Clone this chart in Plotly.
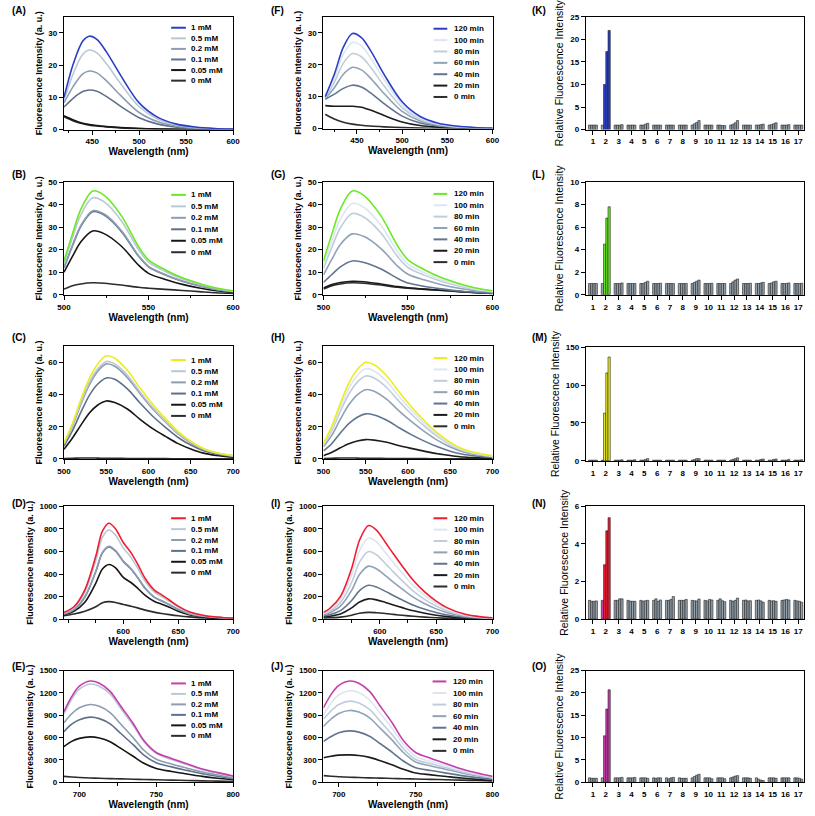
import plotly.graph_objects as go

W, H = 815, 816

# ---------------- data ----------------
conc_labels = ["1 mM", "0.5 mM", "0.2 mM", "0.1 mM", "0.05 mM", "0 mM"]
time_labels = ["120 min", "100 min", "80 min", "60 min", "40 min", "20 min", "0 min"]

# (A) 420-600 nm
A_wl = [420, 430, 440, 447, 455, 465, 480, 500, 520, 540, 560, 580, 600]
A_1 = [10, 20.5, 27.5, 29, 28, 24.2, 17, 8.3, 3.8, 1.7, 0.8, 0.35, 0.15]
A_05 = [9, 17.5, 23.4, 24.7, 23.8, 20.5, 14.4, 7.1, 3.2, 1.4, 0.65, 0.3, 0.12]
A_02 = [8.3, 13.5, 17.3, 18.2, 17.6, 15.2, 10.7, 5.3, 2.4, 1.05, 0.5, 0.22, 0.1]
A_01 = [7, 9.8, 11.8, 12.3, 11.9, 10.3, 7.3, 3.7, 1.7, 0.75, 0.35, 0.15, 0.07]
A_005 = [4.3, 3, 2, 1.6, 1.25, 0.95, 0.65, 0.35, 0.2, 0.1, 0.05, 0.03, 0.02]
A_0 = [4, 2.7, 1.8, 1.4, 1.1, 0.85, 0.55, 0.3, 0.15, 0.08, 0.04, 0.02, 0.01]

# (B) 500-600 nm
B_wl = [500, 505, 510, 517, 524, 534, 544, 550, 560, 570, 580, 590, 600]
B_1 = [15, 27, 38, 46, 44, 35, 21.5, 15.5, 11, 7.5, 5, 3, 1.8]
B_05 = [14, 25.2, 35.5, 43, 41.1, 32.7, 20.1, 14.5, 10.3, 7, 4.7, 2.8, 1.6]
B_02 = [12, 21.9, 30.8, 37.3, 35.7, 28.4, 17.4, 12.6, 8.9, 6.1, 4, 2.4, 1.4]
B_01 = [12, 21.6, 30.4, 36.8, 35.2, 28, 17.2, 12.4, 8.8, 6, 4, 2.4, 1.4]
B_005 = [10, 17, 23.5, 28.3, 27, 21.5, 13.2, 9.5, 6.8, 4.6, 3, 1.8, 1]
B_0 = [2.5, 4, 4.8, 5.3, 5.1, 4.3, 3.3, 2.9, 2.4, 1.9, 1.4, 0.9, 0.6]

# (C) 500-700 nm
C_wl = [500, 510, 520, 530, 540, 550, 560, 575, 590, 605, 620, 635, 650, 665, 680, 700]
C_1 = [10, 22, 37, 50, 59, 64, 62.5, 55, 44, 34, 25, 17, 11, 6.5, 4, 2]
C_05 = [9.5, 21, 35, 47.5, 56, 60.5, 59, 52, 41.6, 32, 23.5, 16, 10.4, 6.1, 3.7, 1.9]
C_02 = [9, 20.5, 34, 46, 54.5, 59, 57.5, 50.5, 40.5, 31, 23, 15.5, 10, 6, 3.6, 1.8]
C_01 = [8, 17.5, 29, 39.5, 46.5, 50.3, 49.5, 43.5, 34.7, 26.5, 19.6, 13.3, 8.6, 5.1, 3.1, 1.5]
C_005 = [6, 13, 21, 28.5, 33.5, 36, 35, 31, 24.6, 18.8, 14, 9.5, 6.2, 3.6, 2.2, 1.1]
C_0 = [0.3, 0.4, 0.6, 0.6, 0.5, 0.4, 0.4, 0.3, 0.3, 0.2, 0.2, 0.1, 0.1, 0.1, 0.1, 0.1]

# (D) 546-700 nm
D_wl = [546, 555, 565, 575, 581, 587, 593, 600, 607, 613, 620, 628, 635, 642, 650, 660, 675, 690, 700]
D_1 = [60, 110, 260, 560, 780, 850, 800, 680, 590, 490, 360, 260, 215, 170, 115, 65, 30, 15, 10]
D_05 = [56, 102, 242, 520, 725, 790, 744, 632, 548, 455, 335, 242, 200, 158, 107, 60, 28, 14, 9]
D_02 = [46, 84, 198, 425, 592, 645, 607, 516, 448, 372, 274, 198, 163, 129, 87, 49, 23, 11, 7]
D_01 = [45, 83, 196, 422, 588, 640, 602, 512, 444, 369, 272, 196, 161, 128, 86, 49, 23, 11, 7]
D_005 = [40, 70, 150, 320, 445, 485, 455, 370, 325, 275, 210, 158, 132, 105, 70, 40, 18, 9, 6]
D_0 = [30, 45, 70, 110, 145, 155, 148, 130, 115, 100, 80, 62, 50, 40, 30, 20, 10, 6, 4]

# (E) 690-800 nm
E_wl = [690, 695, 700, 707, 713, 720, 727, 735, 742, 750, 760, 770, 780, 790, 800]
E_1 = [950, 1150, 1290, 1360, 1330, 1220, 1020, 790, 560, 400, 320, 250, 180, 130, 85]
E_05 = [920, 1115, 1250, 1320, 1290, 1185, 990, 765, 545, 388, 305, 238, 170, 122, 75]
E_02 = [800, 920, 1000, 1045, 1020, 935, 780, 600, 430, 310, 245, 190, 138, 98, 60]
E_01 = [680, 780, 840, 875, 855, 785, 655, 505, 365, 262, 207, 160, 115, 82, 50]
E_005 = [480, 550, 590, 610, 595, 545, 455, 350, 255, 185, 145, 112, 80, 55, 35]
E_0 = [80, 72, 65, 58, 54, 50, 46, 42, 38, 34, 30, 25, 20, 16, 12]

# (F) 413-600 nm, time course
F_wl = [415, 425, 435, 445, 455, 465, 480, 500, 520, 540, 560, 580, 600]
F_120 = [10, 17, 25.5, 29.8, 28.5, 24.5, 17, 8.4, 3.8, 1.7, 0.8, 0.35, 0.15]
F_100 = [10, 15.8, 23.3, 27, 25.9, 22.2, 15.4, 7.6, 3.4, 1.5, 0.7, 0.3, 0.13]
F_80 = [9.8, 14.5, 20.5, 23.5, 22.5, 19.3, 13.4, 6.6, 3, 1.3, 0.6, 0.27, 0.12]
F_60 = [9.5, 12.8, 17, 19.2, 18.4, 15.8, 11, 5.4, 2.4, 1.05, 0.5, 0.22, 0.1]
F_40 = [9.2, 10.8, 12.6, 13.6, 13, 11.2, 7.8, 3.9, 1.75, 0.8, 0.37, 0.17, 0.08]
F_20 = [7.2, 7, 7, 7, 6.7, 5.8, 4.1, 2.1, 0.95, 0.45, 0.2, 0.1, 0.05]
F_0 = [4.5, 3, 2, 1.4, 1.05, 0.8, 0.55, 0.3, 0.15, 0.08, 0.04, 0.02, 0.01]

# (G) 500-600 nm
G_wl = [500, 505, 510, 517, 524, 534, 544, 550, 560, 570, 580, 590, 600]
G_120 = [15, 27, 38, 46, 44, 35, 21.5, 15.5, 11, 7.5, 5, 3, 1.8]
G_100 = [13.2, 23.8, 33.5, 40.5, 38.7, 30.8, 18.9, 13.6, 9.7, 6.6, 4.4, 2.6, 1.6]
G_80 = [11.7, 21.1, 29.7, 36, 34.4, 27.4, 16.8, 12.1, 8.6, 5.9, 3.9, 2.3, 1.4]
G_60 = [8.8, 15.8, 22.3, 27, 25.8, 20.5, 12.6, 9.1, 6.5, 4.4, 2.9, 1.8, 1.1]
G_40 = [5.5, 9, 12.4, 15, 14.3, 11.4, 7.2, 5.2, 3.7, 2.6, 1.7, 1.1, 0.7]
G_20 = [3, 4.5, 5.4, 6, 5.8, 4.8, 3.6, 3.1, 2.5, 2, 1.5, 1, 0.6]
G_0 = [2.5, 4, 4.8, 5.3, 5.1, 4.3, 3.3, 2.9, 2.4, 1.9, 1.4, 0.9, 0.6]

# (H) 500-700 nm
H_wl = [500, 510, 520, 530, 540, 550, 560, 575, 590, 605, 620, 635, 650, 665, 680, 700]
H_120 = [9.5, 20.5, 34.5, 47, 55.5, 60, 58.5, 51.5, 41.2, 31.8, 23.4, 16, 10.3, 6.1, 3.8, 1.9]
H_100 = [9, 19.2, 32.2, 43.8, 51.8, 56, 54.6, 48, 38.5, 29.7, 21.8, 15, 9.6, 5.7, 3.5, 1.8]
H_80 = [8.5, 17.7, 29.6, 40.3, 47.7, 51.5, 50.2, 44.2, 35.4, 27.3, 20.1, 13.8, 8.8, 5.3, 3.3, 1.6]
H_60 = [7.5, 14.8, 24.7, 33.6, 39.8, 43, 42, 36.9, 29.5, 22.8, 16.8, 11.5, 7.4, 4.4, 2.7, 1.4]
H_40 = [5, 9.6, 16.1, 21.9, 25.9, 28, 27.3, 24, 19.2, 14.8, 10.9, 7.5, 4.8, 2.9, 1.8, 0.9]
H_20 = [2, 4.1, 6.9, 9.4, 11.1, 12, 11.7, 10.3, 8.2, 6.4, 4.7, 3.2, 2.1, 1.2, 0.8, 0.4]
H_0 = [0.3, 0.4, 0.6, 0.6, 0.5, 0.4, 0.4, 0.3, 0.3, 0.2, 0.2, 0.1, 0.1, 0.1, 0.1, 0.1]

# (I) 550-700 nm
I_wl = [550, 555, 565, 575, 582, 590, 597, 605, 612, 620, 630, 640, 650, 660, 675, 690, 700]
I_120 = [60, 90, 200, 450, 700, 830, 790, 680, 580, 470, 340, 240, 160, 100, 45, 20, 12]
I_100 = [55, 80, 175, 390, 607, 720, 685, 590, 503, 408, 295, 208, 139, 87, 39, 17, 10]
I_80 = [48, 68, 146, 325, 506, 600, 571, 492, 419, 340, 246, 173, 116, 72, 33, 15, 9]
I_60 = [40, 55, 115, 255, 396, 470, 447, 385, 328, 266, 193, 136, 91, 57, 26, 12, 7]
I_40 = [30, 38, 75, 165, 253, 300, 285, 246, 210, 170, 123, 87, 58, 36, 17, 8, 5]
I_20 = [20, 25, 46, 100, 152, 180, 171, 148, 126, 102, 74, 52, 35, 22, 10, 5, 3]
I_0 = [10, 12, 18, 35, 52, 60, 57, 50, 42, 34, 25, 18, 12, 8, 4, 2, 1]

# (J) 690-800 nm
J_wl = [690, 695, 700, 707, 713, 720, 727, 735, 742, 750, 760, 770, 780, 790, 800]
J_120 = [1000, 1180, 1300, 1360, 1330, 1220, 1020, 790, 560, 400, 320, 250, 180, 125, 80]
J_100 = [900, 1065, 1175, 1230, 1205, 1105, 925, 715, 510, 345, 280, 220, 160, 112, 72]
J_80 = [850, 960, 1045, 1090, 1065, 978, 818, 633, 452, 306, 248, 195, 142, 99, 64]
J_60 = [750, 850, 925, 965, 943, 866, 725, 560, 400, 272, 220, 173, 126, 88, 57]
J_40 = [550, 615, 665, 690, 674, 619, 518, 400, 286, 195, 158, 124, 90, 63, 41]
J_20 = [330, 350, 365, 368, 360, 335, 290, 232, 175, 125, 100, 78, 57, 40, 26]
J_0 = [90, 82, 75, 68, 64, 60, 56, 52, 48, 44, 40, 35, 29, 24, 18]

# Relative fluorescence bars: 17 analytes x 4 bars
bar_categories = list(range(1, 18))
K_vals = [[1, 1, 1, 1], [1, 10, 17.3, 22], [1, 1, 1, 1.1], [1, 1, 1, 1], [1, 1, 1.2, 1.4],
          [1, 1, 1, 1], [1, 1, 1, 1], [1, 1, 1, 1], [1, 1.3, 1.6, 2], [1, 1, 1, 1],
          [1, 1, 0.9, 0.9], [1, 1.2, 1.5, 2], [1, 1, 1, 1], [1, 1, 1.1, 1.2],
          [1, 1.1, 1.3, 1.5], [1, 1, 1, 1.1], [1, 1, 1, 1]]
L_vals = [[1, 1, 1, 1], [1, 4.5, 6.8, 7.8], [1, 1, 1, 1.05], [1, 1, 1, 1], [1, 1, 1.1, 1.2],
          [1, 1, 1, 1.02], [1, 1, 1, 1], [1, 1, 1, 1], [1, 1.1, 1.2, 1.3], [1, 1, 1, 1.02],
          [1, 1, 1, 1], [1, 1.15, 1.3, 1.4], [1, 1, 1, 1.02], [1, 1, 1.05, 1.1],
          [1, 1.05, 1.15, 1.2], [1, 1, 1, 1.05], [1, 1, 1, 1.02]]
M_vals = [[1, 1, 1, 1], [1, 63, 116, 137], [1, 1, 1, 1.5], [1, 1, 1, 1.5], [1, 1, 2, 3],
          [1, 1, 1, 1], [1, 1, 1, 1], [1, 1, 1, 1], [1, 2, 3, 3], [1, 1, 1, 1],
          [1, 1, 1, 1], [1, 2, 3, 4], [1, 1, 1, 1], [1, 1, 2, 2.5],
          [1, 1, 2, 2.5], [1, 1, 1, 2], [1, 1, 1, 1.5]]
N_vals = [[1, 0.95, 0.95, 0.97], [1, 2.9, 4.7, 5.4], [1, 1, 1.08, 1.08], [1, 0.96, 0.95, 0.95],
          [1, 0.96, 0.98, 1], [1, 1.08, 0.95, 1.02], [1, 1, 1.05, 1.2], [1, 1, 1, 1.05],
          [1, 0.98, 0.97, 1.07], [1, 0.97, 1.05, 1.02], [1, 1.08, 0.98, 0.93],
          [1, 0.95, 1, 1.12], [1, 1.02, 0.97, 0.98], [1, 1.02, 0.97, 0.9],
          [1, 0.97, 0.98, 0.95], [1, 1.02, 1.05, 1.02], [1, 0.97, 0.95, 0.9]]
O_vals = [[1, 0.9, 0.9, 0.9], [1, 10.4, 16.4, 20.7], [1, 1, 1, 1.1], [1, 1, 1, 1.1],
          [1, 1, 1, 0.9], [1, 0.9, 1, 1], [1, 0.8, 1, 1.1], [1, 0.9, 0.9, 0.9],
          [1, 1.3, 1.6, 1.8], [1, 1, 1, 0.8], [1, 1, 1, 0.8], [1, 1.2, 1.4, 1.5],
          [1, 1, 1, 0.9], [1, 0.7, 0.5, 0.4], [1, 1, 1, 0.9], [1, 1, 1, 1], [1, 1, 0.9, 0.7]]

# ---------------- styles ----------------
BLUE, GREEN, YELLOW, RED, MAGENTA = "#2b3fc4", "#6be924", "#ecec1e", "#ee1d30", "#c43fab"
conc_grays = ["#b9c7d7", "#8c9db2", "#5f7189", "#161616", "#2c2c2c"]
time_grays = ["#dde6ef", "#bfcddc", "#8fa2b7", "#617590", "#1c1c1c", "#2c2c2c"]
BAR_GRAY = "#96a2ac"
FONT = "Liberation Sans, Arial, Helvetica, sans-serif"


def px_x(p):
    return p / W


def px_y(p):
    return 1 - p / H


spectra = [
    dict(tag="A", wl=A_wl, series=[A_1, A_05, A_02, A_01, A_005, A_0], labels=conc_labels,
         colors=[BLUE] + conc_grays, box=(58, 230, 13, 127), xr=[420, 600], xt=[450, 500, 550, 600],
         minor=25, yr=[0, 35], dy=10, leg=(167, 182, 185, 24, 10.7)),
    dict(tag="B", wl=B_wl, series=[B_1, B_05, B_02, B_01, B_005, B_0], labels=conc_labels,
         colors=[GREEN] + conc_grays, box=(58, 230, 180, 294), xr=[500, 600], xt=[500, 550, 600],
         minor=25, yr=[0, 50], dy=10, leg=(167, 182, 185, 193, 11.6)),
    dict(tag="C", wl=C_wl, series=[C_1, C_05, C_02, C_01, C_005, C_0], labels=conc_labels,
         colors=[YELLOW] + conc_grays, box=(58, 230, 346, 460), xr=[500, 700],
         xt=[500, 550, 600, 650, 700], minor=None, yr=[0, 70], dy=20, leg=(167, 182, 185, 360, 11.3)),
    dict(tag="D", wl=D_wl, series=[D_1, D_05, D_02, D_01, D_005, D_0], labels=conc_labels,
         colors=[RED] + conc_grays, box=(58, 230, 508, 622), xr=[546, 700], xt=[600, 650, 700],
         minor=25, yr=[0, 1000], dy=200, leg=(167, 182, 185, 520, 11)),
    dict(tag="E", wl=E_wl, series=[E_1, E_05, E_02, E_01, E_005, E_0], labels=conc_labels,
         colors=[MAGENTA] + conc_grays, box=(58, 230, 674, 787), xr=[690, 800], xt=[700, 750, 800],
         minor=25, yr=[0, 1500], dy=300, leg=(167, 182, 185, 687, 10.6)),
    dict(tag="F", wl=F_wl, series=[F_120, F_100, F_80, F_60, F_40, F_20, F_0], labels=time_labels,
         colors=[BLUE] + time_grays, box=(322, 494, 13, 126), xr=[413, 600], xt=[450, 500, 550, 600],
         minor=25, yr=[0, 35], dy=10, leg=(434, 448, 453, 25, 11.5)),
    dict(tag="G", wl=G_wl, series=[G_120, G_100, G_80, G_60, G_40, G_20, G_0], labels=time_labels,
         colors=[GREEN] + time_grays, box=(322, 494, 180, 294), xr=[500, 600], xt=[500, 550, 600],
         minor=25, yr=[0, 50], dy=10, leg=(434, 448, 453, 192, 11.5)),
    dict(tag="H", wl=H_wl, series=[H_120, H_100, H_80, H_60, H_40, H_20, H_0], labels=time_labels,
         colors=[YELLOW] + time_grays, box=(322, 494, 346, 460), xr=[500, 700],
         xt=[500, 550, 600, 650, 700], minor=None, yr=[0, 70], dy=20, leg=(434, 448, 453, 358, 11.5)),
    dict(tag="I", wl=I_wl, series=[I_120, I_100, I_80, I_60, I_40, I_20, I_0], labels=time_labels,
         colors=[RED] + time_grays, box=(322, 494, 508, 622), xr=[550, 700], xt=[600, 650, 700],
         minor=25, yr=[0, 1000], dy=200, leg=(434, 448, 453, 520, 11.5)),
    dict(tag="J", wl=J_wl, series=[J_120, J_100, J_80, J_60, J_40, J_20, J_0], labels=time_labels,
         colors=[MAGENTA] + time_grays, box=(322, 494, 674, 787), xr=[690, 800], xt=[700, 750, 800],
         minor=25, yr=[0, 1500], dy=300, leg=(433, 447, 452, 685, 11.7)),
]

bars = [
    dict(tag="K", vals=K_vals, color=BLUE, first=BAR_GRAY, box=(589, 811, 13, 127), yr=[0, 25], dy=5),
    dict(tag="L", vals=L_vals, color=GREEN, first=BAR_GRAY, box=(589, 811, 180, 294), yr=[0, 10], dy=2),
    dict(tag="M", vals=M_vals, color=YELLOW, first=BAR_GRAY, box=(589, 811, 347, 462), yr=[0, 150], dy=50),
    dict(tag="N", vals=N_vals, color=RED, first=MAGENTA, box=(589, 811, 508, 622), yr=[0, 6], dy=2),
    dict(tag="O", vals=O_vals, color=MAGENTA, first=BAR_GRAY, box=(589, 811, 674, 787), yr=[0, 25], dy=5),
]

label_pos = {"A": (3, 7), "B": (3, 172), "C": (3, 337), "D": (3, 505), "E": (3, 670),
             "F": (267, 7), "G": (267, 172), "H": (267, 337), "I": (267, 505), "J": (267, 670),
             "K": (532, 7), "L": (532, 172), "M": (532, 337), "N": (532, 505), "O": (532, 670)}

fig = go.Figure()
layout = {}
shapes = []
annotations = []
tickfont = dict(family=FONT, size=8, color="black", weight="bold")

n = 0
for p in spectra:
    n += 1
    xa = "x" if n == 1 else f"x{n}"
    ya = "y" if n == 1 else f"y{n}"
    l, r, t, b = p["box"]
    # draw lowest first so the coloured series sits on top
    for s, lab, col in reversed(list(zip(p["series"], p["labels"], p["colors"]))):
        fig.add_trace(go.Scatter(x=p["wl"], y=s, mode="lines", name=lab, showlegend=False,
                                 line=dict(color=col, width=1.6, shape="spline", smoothing=0.9),
                                 xaxis=xa, yaxis=ya))
    xkey = "xaxis" if n == 1 else f"xaxis{n}"
    ykey = "yaxis" if n == 1 else f"yaxis{n}"
    xax = dict(domain=[px_x(l), px_x(r)], anchor=ya, range=p["xr"], tickvals=p["xt"],
               showline=True, mirror=True, linecolor="black", linewidth=1.3,
               ticks="outside", ticklen=4, tickwidth=1.2, tickcolor="black",
               tickfont=tickfont, showgrid=False, zeroline=False,
               title=dict(text="Wavelength (nm)", standoff=2,
                          font=dict(family=FONT, size=10, color="black", weight="bold")))
    if p["minor"]:
        xax["minor"] = dict(ticks="outside", ticklen=2.5, tickwidth=1, tickcolor="black",
                            dtick=p["minor"], tick0=0, showgrid=False)
    yax = dict(domain=[px_y(b), px_y(t)], anchor=xa, range=p["yr"], dtick=p["dy"], tick0=0,
               showline=True, mirror=True, linecolor="black", linewidth=1.3,
               ticks="outside", ticklen=4, tickwidth=1.2, tickcolor="black",
               tickfont=tickfont, showgrid=False, zeroline=False,
               title=dict(text="Fluorescence Intensity (a. u.)", standoff=4,
                          font=dict(family=FONT, size=9, color="black", weight="bold")))
    layout[xkey] = xax
    layout[ykey] = yax
    # legend drawn inside the plot
    lx0, lx1, tx, ly0, dy = p["leg"]
    for i, (lab, col) in enumerate(zip(p["labels"], p["colors"])):
        yy = ly0 + i * dy
        shapes.append(dict(type="line", xref="paper", yref="paper", x0=px_x(lx0), x1=px_x(lx1),
                           y0=px_y(yy), y1=px_y(yy), line=dict(color=col, width=2)))
        annotations.append(dict(text=lab, xref="paper", yref="paper", x=px_x(tx), y=px_y(yy),
                                xanchor="left", yanchor="middle", showarrow=False,
                                font=dict(family=FONT, size=8, color="black", weight="bold")))

for p in bars:
    n += 1
    xa, ya = f"x{n}", f"y{n}"
    l, r, t, b = p["box"]
    for i in range(4):
        vals = [g[i] for g in p["vals"]]
        if i == 0:
            cols = [p["first"] if c == 2 else BAR_GRAY for c in bar_categories]
        else:
            cols = [p["color"] if c == 2 else BAR_GRAY for c in bar_categories]
        fig.add_trace(go.Bar(x=bar_categories, y=vals, showlegend=False,
                             marker=dict(color=cols, line=dict(color="#222222", width=0.6)),
                             xaxis=xa, yaxis=ya))
    layout[f"xaxis{n}"] = dict(domain=[px_x(l), px_x(r)], anchor=ya, range=[0.45, 17.45],
                               tickvals=bar_categories, showline=True, mirror=True,
                               linecolor="black", linewidth=1.3, ticks="outside", ticklen=4,
                               tickwidth=1.2, tickcolor="black", tickfont=tickfont,
                               showgrid=False, zeroline=False)
    layout[f"yaxis{n}"] = dict(domain=[px_y(b), px_y(t)], anchor=xa, range=p["yr"], dtick=p["dy"],
                               tick0=0, showline=True, mirror=True, linecolor="black",
                               linewidth=1.3, ticks="outside", ticklen=4, tickwidth=1.2,
                               tickcolor="black", tickfont=tickfont, showgrid=False,
                               zeroline=False,
                               title=dict(text="Relative Fluorescence Intensity", standoff=4,
                                          font=dict(family=FONT, size=10.5, color="black")))

for tag, (x, y) in label_pos.items():
    annotations.append(dict(text=f"({tag})", xref="paper", yref="paper", x=px_x(x), y=px_y(y),
                            xanchor="left", yanchor="middle", showarrow=False,
                            font=dict(family=FONT, size=10, color="black", weight="bold")))

fig.update_layout(width=W, height=H, margin=dict(l=0, r=0, t=0, b=0),
                  paper_bgcolor="white", plot_bgcolor="white", barmode="group",
                  bargap=0.3, bargroupgap=0.0, shapes=shapes, annotations=annotations,
                  **layout)

# the figure fills the whole window, so drop the page's default body margin
fig.write_html("out.html", config={"displayModeBar": False},
               post_script="document.body.style.margin='0';"
                           "document.body.style.overflow='hidden';")
